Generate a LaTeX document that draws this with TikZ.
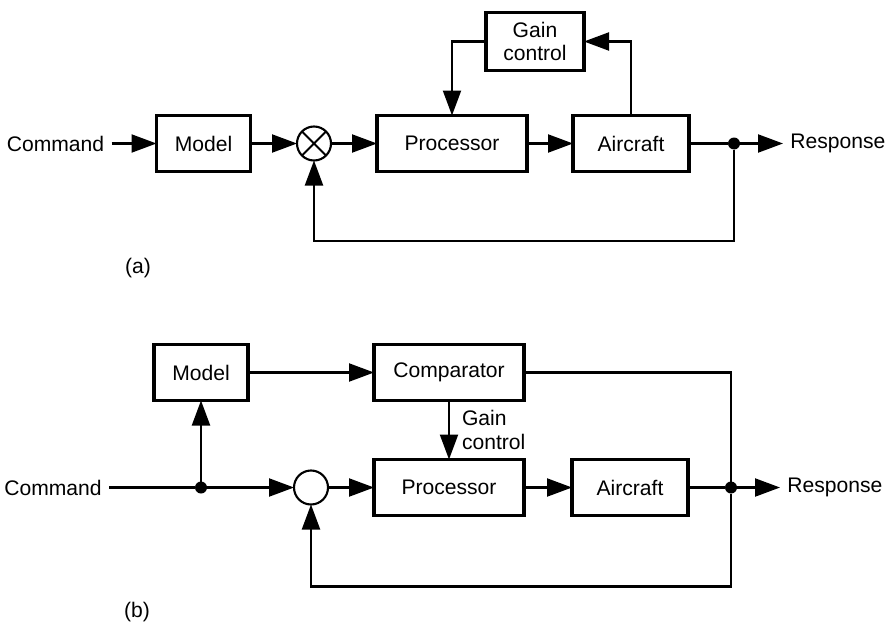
\documentclass[tikz,border=0pt]{standalone}
\usepackage{fontspec}
\setmainfont{Liberation Sans}
\usetikzlibrary{arrows.meta, positioning, calc}
\tikzset{
    ctlblock/.style={rectangle, draw, line width=1.8pt, outer sep=0pt, minimum width=#1, minimum height=1.12cm, inner sep=0pt, align=center, font=\fontsize{12}{13.5}\selectfont},
    ctlblock/.default=1.88cm,
    ctlsum/.style={circle, draw, line width=1.2pt, outer sep=0pt, minimum size=0.68cm, inner sep=0pt},
    ctlcross/.style={ctlsum, path picture={\draw[line width=1.2pt] (path picture bounding box.north west) -- (path picture bounding box.south east) (path picture bounding box.north east) -- (path picture bounding box.south west);}},
    ctldot/.style={circle, fill, outer sep=0pt, minimum size=0.24cm, inner sep=0pt},
    ctlarrow/.style={-{Triangle[length=0.5cm, width=0.36cm]}, line width=1.2pt},
    ctlline/.style={line width=1.2pt},
    ctllabel/.style={font=\fontsize{12}{13.5}\selectfont, inner sep=0.14cm, align=left}
}

\begin{document}
\begin{tikzpicture}
\useasboundingbox (0,0) rectangle (17.88,-12.5);

% (a) model following with gain control
\node[ctlblock] (modelA) at (4.07,-2.87) {Model};
\node[ctllabel, left=0.9cm of modelA] (cmdA) {Command};
\node[ctlcross, right=0.93cm of modelA] (sumA) {};
\node[ctlblock=3cm, right=0.92cm of sumA] (procA) {Processor};
\node[ctlblock=2.32cm, right=0.92cm of procA] (airA) {Aircraft};
\node[ctldot, right=0.78cm of airA] (dotA) {};
\node[ctllabel, right=0.86cm of dotA] (respA) {Response};
\node[ctlblock=1.96cm, minimum height=1.16cm, above=0.9cm of procA.north east, xshift=0.16cm] (gainA) {Gain\\control};
\node[ctllabel] (capA) at (2.76,-5.36) {(a)};

\draw[ctlarrow] (cmdA) -- (modelA);
\draw[ctlarrow] (modelA) -- (sumA);
\draw[ctlarrow] (sumA) -- (procA);
\draw[ctlarrow] (procA) -- (airA);
\draw[ctlline] (airA) -- (dotA);
\draw[ctlarrow] (dotA) -- (respA);
\draw[ctlarrow] (airA.north) |- (gainA.east);
\draw[ctlarrow] (gainA.west) -| (procA.north);
\draw[ctlarrow] (dotA) -- ++(0,-1.95) -| (sumA.south);

% (b) comparator drives the gain
\node[ctlblock=3cm, below=5.76cm of procA, xshift=-0.06cm] (procB) {Processor};
\node[ctlsum, left=0.92cm of procB] (sumB) {};
\node[ctlblock=2.32cm, right=0.96cm of procB] (airB) {Aircraft};
\node[ctldot, right=0.74cm of airB] (dotB) {};
\node[ctllabel, right=0.86cm of dotB] (respB) {Response};
\node[ctlblock=3cm, above=1.18cm of procB] (compB) {Comparator};
\node[ctlblock, left=2.52cm of compB] (modelB) {Model};
\node[ctldot] (splitB) at (modelB.south |- sumB.west) {};
\node[ctllabel, left=1.72cm of splitB] (cmdB) {Command};
\node[ctllabel] (capB) at (2.74,-12.24) {(b)};

\draw[ctlline] (cmdB) -- (splitB);
\draw[ctlarrow] (splitB) -- (sumB);
\draw[ctlarrow] (splitB) -- (modelB);
\draw[ctlarrow] (modelB) -- (compB);
\draw[ctlarrow] (sumB) -- (procB);
\draw[ctlarrow] (procB) -- (airB);
\draw[ctlline] (airB) -- (dotB);
\draw[ctlarrow] (dotB) -- (respB);
\draw[ctlarrow] (compB) -- node[ctllabel, inner sep=0pt, anchor=west, xshift=0.24cm] (gainB) {Gain\\control} (procB);
\draw[ctlline] (compB.east) -| (dotB);
\draw[ctlarrow] (dotB) -- ++(0,-1.98) -| (sumB.south);

\end{tikzpicture}
\end{document}
